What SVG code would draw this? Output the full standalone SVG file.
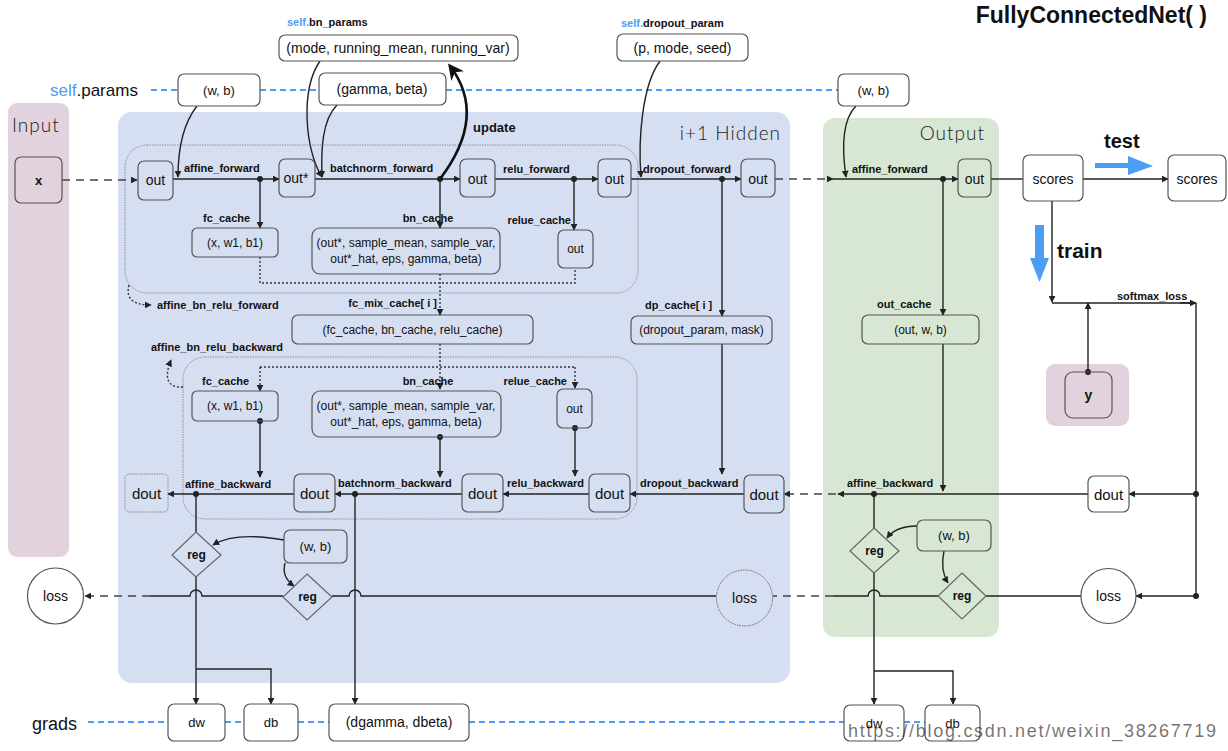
<svg xmlns="http://www.w3.org/2000/svg" width="1228" height="751" viewBox="0 0 1228 751">
<style>
text{font-family:"Liberation Sans",Arial,sans-serif;fill:#111}
.lbl{font-size:11px;font-weight:bold}
.c{text-anchor:middle}
.e{text-anchor:end}
.bx{fill:none;stroke:#555;stroke-width:1.2}
.wb{fill:#fff;stroke:#555;stroke-width:1.2}
.ln{fill:none;stroke:#222;stroke-width:1.4}
.dl{fill:none;stroke:#444;stroke-width:1.4;stroke-dasharray:8 6}
.dt{fill:none;stroke:#333;stroke-width:1.4;stroke-dasharray:2 2}
.bl{fill:none;stroke:#4b9cf5;stroke-width:2.2;stroke-dasharray:6 4}
.ttl{font-family:Lato,"Open Sans",sans-serif;font-weight:300;font-size:19px;fill:#1a1a1a;letter-spacing:1px}
</style>
<defs>
<marker id="a" viewBox="0 0 10 10" refX="9" refY="5" markerWidth="7" markerHeight="7" markerUnits="userSpaceOnUse" orient="auto"><path d="M0,0L10,5L0,10z" fill="#222"/></marker>
<marker id="A" viewBox="0 0 10 10" refX="8" refY="5" markerWidth="16" markerHeight="16" markerUnits="userSpaceOnUse" orient="auto"><path d="M0,0L10,5L0,10L3,5z" fill="#111"/></marker>
<marker id="d" viewBox="0 0 10 10" refX="5" refY="5" markerWidth="6" markerHeight="6" markerUnits="userSpaceOnUse"><circle cx="5" cy="5" r="5" fill="#222"/></marker>
</defs>

<!-- panels -->
<g id="panel-input"><rect x="8" y="103" width="61" height="454" rx="9" fill="#e2d2dd"/><text class="ttl" x="12" y="132">Input</text></g>
<g id="panel-hidden"><rect x="118" y="112" width="672" height="571" rx="14" fill="#d6dff1"/><text class="ttl e" x="781" y="140">i+1 Hidden</text></g>
<g id="panel-output"><rect x="823" y="118" width="176" height="519" rx="12" fill="#d7e7d4"/><text class="ttl e" x="985" y="140">Output</text></g>
<g id="panel-y"><rect x="1046" y="364" width="83" height="62" rx="9" fill="#e2d2dd"/></g>
<rect x="125" y="145" width="513" height="148" rx="22" fill="none" stroke="#888" stroke-width="0.9" stroke-dasharray="1.5 1"/>
<rect x="183" y="357" width="454" height="162" rx="22" fill="none" stroke="#888" stroke-width="0.9" stroke-dasharray="1.5 1"/>

<!-- title and rails -->
<text x="1207" y="23" class="e" font-size="23" font-weight="bold">FullyConnectedNet( )</text>
<text x="50" y="96" font-size="17"><tspan fill="#4a9ef5">self</tspan>.params</text>
<text x="32" y="730" font-size="18">grads</text>
<g id="rails">
<line class="bl" x1="151" y1="90" x2="178" y2="90"/>
<line class="bl" x1="260" y1="90" x2="319" y2="90"/>
<line class="bl" x1="446" y1="90" x2="838" y2="90"/>
<line class="bl" x1="88" y1="722" x2="168" y2="722"/>
<line class="bl" x1="225" y1="722" x2="244" y2="722"/>
<line class="bl" x1="298" y1="722" x2="329" y2="722"/>
<line class="bl" x1="469" y1="722" x2="844" y2="722"/>
<line class="bl" x1="904" y1="722" x2="925" y2="722"/>
</g>

<!-- connectors -->
<g id="connectors">
<line class="dl" x1="62" y1="180" x2="137" y2="180" marker-end="url(#a)"/>
<line class="ln" x1="173" y1="179" x2="279" y2="179" marker-end="url(#a)"/>
<line class="ln" x1="260" y1="179" x2="260" y2="228" marker-start="url(#d)" marker-end="url(#a)"/>
<line class="ln" x1="315" y1="179" x2="460" y2="179" marker-end="url(#a)"/>
<line class="ln" x1="440" y1="179" x2="440" y2="228" marker-start="url(#d)" marker-end="url(#a)"/>
<line class="ln" x1="495" y1="179" x2="598" y2="179" marker-end="url(#a)"/>
<line class="ln" x1="574" y1="179" x2="574" y2="230" marker-start="url(#d)" marker-end="url(#a)"/>
<line class="ln" x1="631" y1="179" x2="741" y2="179" marker-end="url(#a)"/>
<line class="ln" x1="722" y1="179" x2="722" y2="316" marker-start="url(#d)" marker-end="url(#a)"/>
<line class="dl" x1="775" y1="179" x2="833" y2="179" marker-end="url(#a)"/>
<line class="ln" x1="833" y1="179" x2="958" y2="179" marker-end="url(#a)"/>
<line class="ln" x1="943" y1="179" x2="943" y2="315" marker-start="url(#d)" marker-end="url(#a)"/>
<line class="ln" x1="991" y1="179" x2="1023" y2="179"/>
<line class="ln" x1="1083" y1="179" x2="1168" y2="179" marker-end="url(#a)"/>
<line class="ln" x1="1052" y1="201" x2="1052" y2="302" marker-end="url(#a)"/>
<polyline class="ln" points="1052,303 1196,303"/>
<line class="ln" x1="1180" y1="303" x2="1196" y2="303" marker-end="url(#a)"/>
<line class="ln" x1="1196" y1="303" x2="1196" y2="596"/>
<line class="ln" x1="1088" y1="372" x2="1088" y2="303" marker-start="url(#d)" marker-end="url(#a)"/>
<line class="ln" x1="1196" y1="494" x2="1129" y2="494" marker-start="url(#d)" marker-end="url(#a)"/>
<line class="ln" x1="1196" y1="596" x2="1136" y2="596" marker-start="url(#d)" marker-end="url(#a)"/>
<line class="ln" x1="1088" y1="494" x2="838" y2="494" marker-end="url(#a)"/>
<line class="dl" x1="836" y1="494" x2="784" y2="494" marker-end="url(#a)"/>
<line class="ln" x1="943" y1="344" x2="943" y2="491" marker-end="url(#a)"/>
<line class="ln" x1="874" y1="494" x2="874" y2="529" marker-start="url(#d)"/>
<line class="ln" x1="874" y1="573" x2="874" y2="704" marker-end="url(#a)"/>
<polyline class="ln" points="874,671 953,671 953,704" marker-end="url(#a)"/>
<line class="ln" x1="986" y1="596" x2="1081" y2="596"/>
<path class="ln" d="M938,596H880a6,6 0 0 0 -12,0H833"/>
<line class="dl" x1="833" y1="596" x2="773" y2="596"/>
<path class="ln" d="M716,596H361a6,6 0 0 0 -12,0H332"/>
<path class="ln" d="M283,596H202a6,6 0 0 0 -12,0H150"/>
<line class="dl" x1="150" y1="596" x2="85" y2="596" marker-end="url(#a)"/>
<line class="ln" x1="722" y1="344" x2="722" y2="474" marker-end="url(#a)"/>
<line class="ln" x1="744" y1="494" x2="630" y2="494" marker-end="url(#a)"/>
<line class="ln" x1="589" y1="494" x2="503" y2="494" marker-end="url(#a)"/>
<line class="ln" x1="462" y1="494" x2="335" y2="494" marker-end="url(#a)"/>
<line class="ln" x1="294" y1="494" x2="168" y2="494" marker-end="url(#a)"/>
<line class="ln" x1="196" y1="494" x2="196" y2="532" marker-start="url(#d)"/>
<line class="ln" x1="196" y1="577" x2="196" y2="704" marker-end="url(#a)"/>
<polyline class="ln" points="196,669 271,669 271,704" marker-end="url(#a)"/>
<line class="ln" x1="355" y1="494" x2="355" y2="704" marker-start="url(#d)" marker-end="url(#a)"/>
<line class="ln" x1="260" y1="421" x2="260" y2="477" marker-start="url(#d)" marker-end="url(#a)"/>
<line class="ln" x1="440" y1="437" x2="440" y2="477" marker-start="url(#d)" marker-end="url(#a)"/>
<line class="ln" x1="575" y1="428" x2="575" y2="476" marker-start="url(#d)" marker-end="url(#a)"/>
<polyline class="dt" points="260,257 260,283 575,283 575,268"/>
<line class="dt" x1="440" y1="274" x2="440" y2="315" marker-end="url(#a)"/>
<line class="dt" x1="440" y1="344" x2="440" y2="389" marker-end="url(#a)"/>
<line class="dt" x1="260" y1="367" x2="575" y2="367"/>
<line class="dt" x1="260" y1="367" x2="260" y2="391" marker-end="url(#a)"/>
<line class="dt" x1="575" y1="367" x2="575" y2="388" marker-end="url(#a)"/>
<path class="dt" d="M129,285C125,300 135,305 151,305" marker-end="url(#a)"/>
<path class="dt" d="M183,387C165,388 165,375 171,360" marker-end="url(#a)"/>
<path class="ln" d="M197,106C182,125 178,150 178,177" marker-end="url(#a)"/>
<path class="ln" d="M337,105C322,120 321,150 322,177" marker-end="url(#a)"/>
<path class="ln" d="M320,61C300,90 305,150 322,177" marker-end="url(#a)"/>
<path fill="none" stroke="#111" stroke-width="2.6" d="M440,179C462,150 482,108 450,66" marker-end="url(#A)"/>
<path class="ln" d="M660,61C642,85 638,140 641,177" marker-end="url(#a)"/>
<path class="ln" d="M856,106C842,120 842,150 846,177" marker-end="url(#a)"/>
<path class="ln" d="M284,540C250,534 226,537 213,545" marker-end="url(#a)"/>
<path class="ln" d="M285,563C282,574 287,581 294,586" marker-end="url(#a)"/>
<path class="ln" d="M917,526C902,526 893,530 887,538" marker-end="url(#a)"/>
<path class="ln" d="M944,551C941,565 943,575 948,583" marker-end="url(#a)"/>
<path d="M1095,163H1128V156L1153,166L1128,175V168H1095z" fill="#4a9ef5"/>
<path d="M1035,225H1044V258H1049L1039.5,282L1030,258H1035z" fill="#4a9ef5"/>
</g>

<!-- labels -->
<g id="labels">
<text class="lbl" x="287" y="26"><tspan fill="#4a9ef5">self.</tspan>bn_params</text>
<text class="lbl" x="621" y="27"><tspan fill="#4a9ef5">self.</tspan>dropout_param</text>
<text class="lbl" x="184" y="172">affine_forward</text>
<text class="lbl" x="330" y="172">batchnorm_forward</text>
<text class="lbl" x="503" y="173">relu_forward</text>
<text class="lbl" x="643" y="173">dropout_forward</text>
<text class="lbl" x="852" y="173">affine_forward</text>
<text class="lbl" x="203" y="222">fc_cache</text>
<text class="lbl c" x="428" y="222">bn_cache</text>
<text class="lbl e" x="571" y="224">relue_cache</text>
<text x="473" y="132" font-size="13" font-weight="bold">update</text>
<text class="lbl e" x="437" y="307">fc_mix_cache[ i ]</text>
<text class="lbl" x="157" y="309">affine_bn_relu_forward</text>
<text class="lbl" x="151" y="351">affine_bn_relu_backward</text>
<text class="lbl" x="645" y="309">dp_cache[ i ]</text>
<text class="lbl" x="877" y="308">out_cache</text>
<text class="lbl" x="1117" y="300">softmax_loss</text>
<text class="lbl" x="202" y="385">fc_cache</text>
<text class="lbl c" x="428" y="385">bn_cache</text>
<text class="lbl e" x="567" y="385">relue_cache</text>
<text class="lbl" x="185" y="488">affine_backward</text>
<text class="lbl" x="338" y="487">batchnorm_backward</text>
<text class="lbl" x="507" y="487">relu_backward</text>
<text class="lbl" x="640" y="487">dropout_backward</text>
<text class="lbl" x="847" y="487">affine_backward</text>
<text x="1104" y="148" font-size="20" font-weight="bold">test</text>
<text x="1057" y="258" font-size="21" font-weight="bold">train</text>
</g>

<!-- nodes -->
<g id="nodes">
<g id="n-x"><rect x="15" y="157" width="47" height="46" rx="6" fill="none" stroke="#555" stroke-width="1.2"/><text class="c" x="38.5" y="185" font-size="13" font-weight="bold">x</text></g>
<g id="n-wb1"><rect class="wb" x="178" y="74" width="82" height="32" rx="6"/><text class="c" x="219" y="95" font-size="13">(w, b)</text></g>
<g id="n-gb"><rect class="wb" x="319" y="73" width="127" height="32" rx="6"/><text class="c" x="382" y="94" font-size="14">(gamma, beta)</text></g>
<g id="n-wb3"><rect class="wb" x="838" y="74" width="71" height="32" rx="6"/><text class="c" x="873.5" y="95" font-size="13">(w, b)</text></g>
<g id="n-bnp"><rect class="wb" x="279" y="35" width="239" height="26" rx="6"/><text class="c" x="398" y="53" font-size="14">(mode, running_mean, running_var)</text></g>
<g id="n-dop"><rect class="wb" x="617" y="34" width="131" height="27" rx="6"/><text class="c" x="682.5" y="53" font-size="14">(p, mode, seed)</text></g>
<g id="n-out1"><rect class="bx" x="138" y="161" width="35" height="39" rx="6"/><text class="c" x="155.5" y="185" font-size="14">out</text></g>
<g id="n-outs"><rect class="bx" x="279" y="159" width="36" height="38" rx="6"/><text class="c" x="296" y="183" font-size="14">out*</text></g>
<g id="n-out3"><rect class="bx" x="460" y="159" width="35" height="38" rx="6"/><text class="c" x="477.5" y="184" font-size="14">out</text></g>
<g id="n-out4"><rect class="bx" x="598" y="159" width="33" height="38" rx="6"/><text class="c" x="614.5" y="184" font-size="14">out</text></g>
<g id="n-out5"><rect class="bx" x="741" y="159" width="34" height="38" rx="6"/><text class="c" x="758" y="184" font-size="14">out</text></g>
<g id="n-out6"><rect class="bx" x="958" y="159" width="33" height="38" rx="6"/><text class="c" x="974.5" y="184" font-size="14">out</text></g>
<g id="n-scores"><rect class="wb" x="1023" y="155" width="60" height="46" rx="6"/><text class="c" x="1053" y="184" font-size="14">scores</text></g>
<g id="n-scores2"><rect class="wb" x="1168" y="155" width="58" height="46" rx="6"/><text class="c" x="1197" y="184" font-size="14">scores</text></g>
<g id="n-fcc"><rect class="bx" x="192" y="228" width="86" height="29" rx="5"/><text class="c" x="235" y="247" font-size="12">(x, w1, b1)</text></g>
<g id="n-bnc"><rect class="bx" x="312" y="228" width="188" height="46" rx="8"/><text class="c" x="406" y="247" font-size="12">(out*, sample_mean, sample_var,</text><text class="c" x="406" y="263" font-size="12">out*_hat, eps, gamma, beta)</text></g>
<g id="n-rc"><rect class="bx" x="558" y="230" width="35" height="38" rx="6"/><text class="c" x="575.5" y="253" font-size="12">out</text></g>
<g id="n-mix"><rect class="bx" x="292" y="315" width="241" height="29" rx="6"/><text class="c" x="412.5" y="334" font-size="12">(fc_cache, bn_cache, relu_cache)</text></g>
<g id="n-dpc"><rect class="bx" x="631" y="316" width="141" height="28" rx="6"/><text class="c" x="701.5" y="334" font-size="12">(dropout_param, mask)</text></g>
<g id="n-oc"><rect class="bx" x="862" y="315" width="117" height="29" rx="6"/><text class="c" x="920.5" y="334" font-size="12">(out, w, b)</text></g>
<g id="n-y"><rect class="bx" x="1065" y="372" width="47" height="46" rx="8"/><text class="c" x="1088.5" y="400" font-size="14" font-weight="bold">y</text></g>
<g id="n-fcc2"><rect class="bx" x="192" y="391" width="86" height="30" rx="5"/><text class="c" x="235" y="410" font-size="12">(x, w1, b1)</text></g>
<g id="n-bnc2"><rect class="bx" x="312" y="391" width="189" height="46" rx="8"/><text class="c" x="406" y="410" font-size="12">(out*, sample_mean, sample_var,</text><text class="c" x="406" y="426" font-size="12">out*_hat, eps, gamma, beta)</text></g>
<g id="n-rc2"><rect class="bx" x="557" y="389" width="35" height="39" rx="6"/><text class="c" x="574.5" y="413" font-size="12">out</text></g>
<g id="n-dout1"><rect x="125" y="474" width="43" height="38" rx="4" fill="none" stroke="#888" stroke-width="1" stroke-dasharray="1.5 1"/><text class="c" x="146.5" y="499" font-size="15">dout</text></g>
<g id="n-dout2"><rect class="bx" x="294" y="474" width="41" height="38" rx="6"/><text class="c" x="314.5" y="499" font-size="15">dout</text></g>
<g id="n-dout3"><rect class="bx" x="462" y="474" width="41" height="38" rx="6"/><text class="c" x="482.5" y="499" font-size="15">dout</text></g>
<g id="n-dout4"><rect class="bx" x="589" y="474" width="41" height="38" rx="6"/><text class="c" x="609.5" y="499" font-size="15">dout</text></g>
<g id="n-dout5"><rect class="bx" x="744" y="475" width="40" height="38" rx="6"/><text class="c" x="764" y="500" font-size="15">dout</text></g>
<g id="n-dout6"><rect class="wb" x="1088" y="476" width="41" height="36" rx="6"/><text class="c" x="1108.5" y="500" font-size="15">dout</text></g>
<g id="n-reg1"><path d="M196,532L221,555L196,577L172,555z" fill="none" stroke="#666" stroke-width="1.2"/><text class="c" x="196.5" y="559" font-size="12" font-weight="bold">reg</text></g>
<g id="n-wbl"><rect class="bx" x="284" y="530" width="63" height="33" rx="6"/><text class="c" x="315.5" y="551" font-size="13">(w, b)</text></g>
<g id="n-reg2"><path d="M307,574L332,597L307,620L283,597z" fill="none" stroke="#666" stroke-width="1.2"/><text class="c" x="307.5" y="601" font-size="12" font-weight="bold">reg</text></g>
<g id="n-reg3"><path d="M874,528L899,551L874,573L850,551z" fill="none" stroke="#666" stroke-width="1.2"/><text class="c" x="874.5" y="555" font-size="12" font-weight="bold">reg</text></g>
<g id="n-wbr"><rect class="bx" x="917" y="520" width="74" height="31" rx="6"/><text class="c" x="954" y="540" font-size="13">(w, b)</text></g>
<g id="n-reg4"><path d="M962,573L986,596L962,619L938,596z" fill="none" stroke="#666" stroke-width="1.2"/><text class="c" x="962" y="600" font-size="12" font-weight="bold">reg</text></g>
<g id="n-loss1"><circle cx="55.5" cy="596" r="28" fill="#fff" stroke="#555" stroke-width="1.2"/><text class="c" x="55.5" y="601" font-size="14">loss</text></g>
<g id="n-loss2"><circle cx="744.5" cy="598" r="28" fill="none" stroke="#666" stroke-width="1" stroke-dasharray="1.5 1"/><text class="c" x="744.5" y="603" font-size="14">loss</text></g>
<g id="n-loss3"><circle cx="1108.5" cy="596" r="27.5" fill="#fff" stroke="#555" stroke-width="1.2"/><text class="c" x="1108.5" y="601" font-size="14">loss</text></g>
<g id="n-dw1"><rect class="wb" x="168" y="704" width="57" height="37" rx="6"/><text class="c" x="196.5" y="727" font-size="13">dw</text></g>
<g id="n-db1"><rect class="wb" x="244" y="704" width="54" height="37" rx="6"/><text class="c" x="271" y="727" font-size="13">db</text></g>
<g id="n-dgb"><rect class="wb" x="329" y="704" width="140" height="37" rx="6"/><text class="c" x="399" y="727" font-size="14">(dgamma, dbeta)</text></g>
<g id="n-dw2"><rect class="wb" x="844" y="705" width="60" height="36" rx="6"/><text class="c" x="874" y="728" font-size="13">dw</text></g>
<g id="n-db2"><rect class="wb" x="925" y="705" width="55" height="36" rx="6"/><text class="c" x="952.5" y="728" font-size="13">db</text></g>
</g>
<text x="848" y="737" font-family="Liberation Mono,monospace" font-size="18" fill="#aaa" fill-opacity="0.6" textLength="368">https://blog.csdn.net/weixin_38267719</text>
</svg>
